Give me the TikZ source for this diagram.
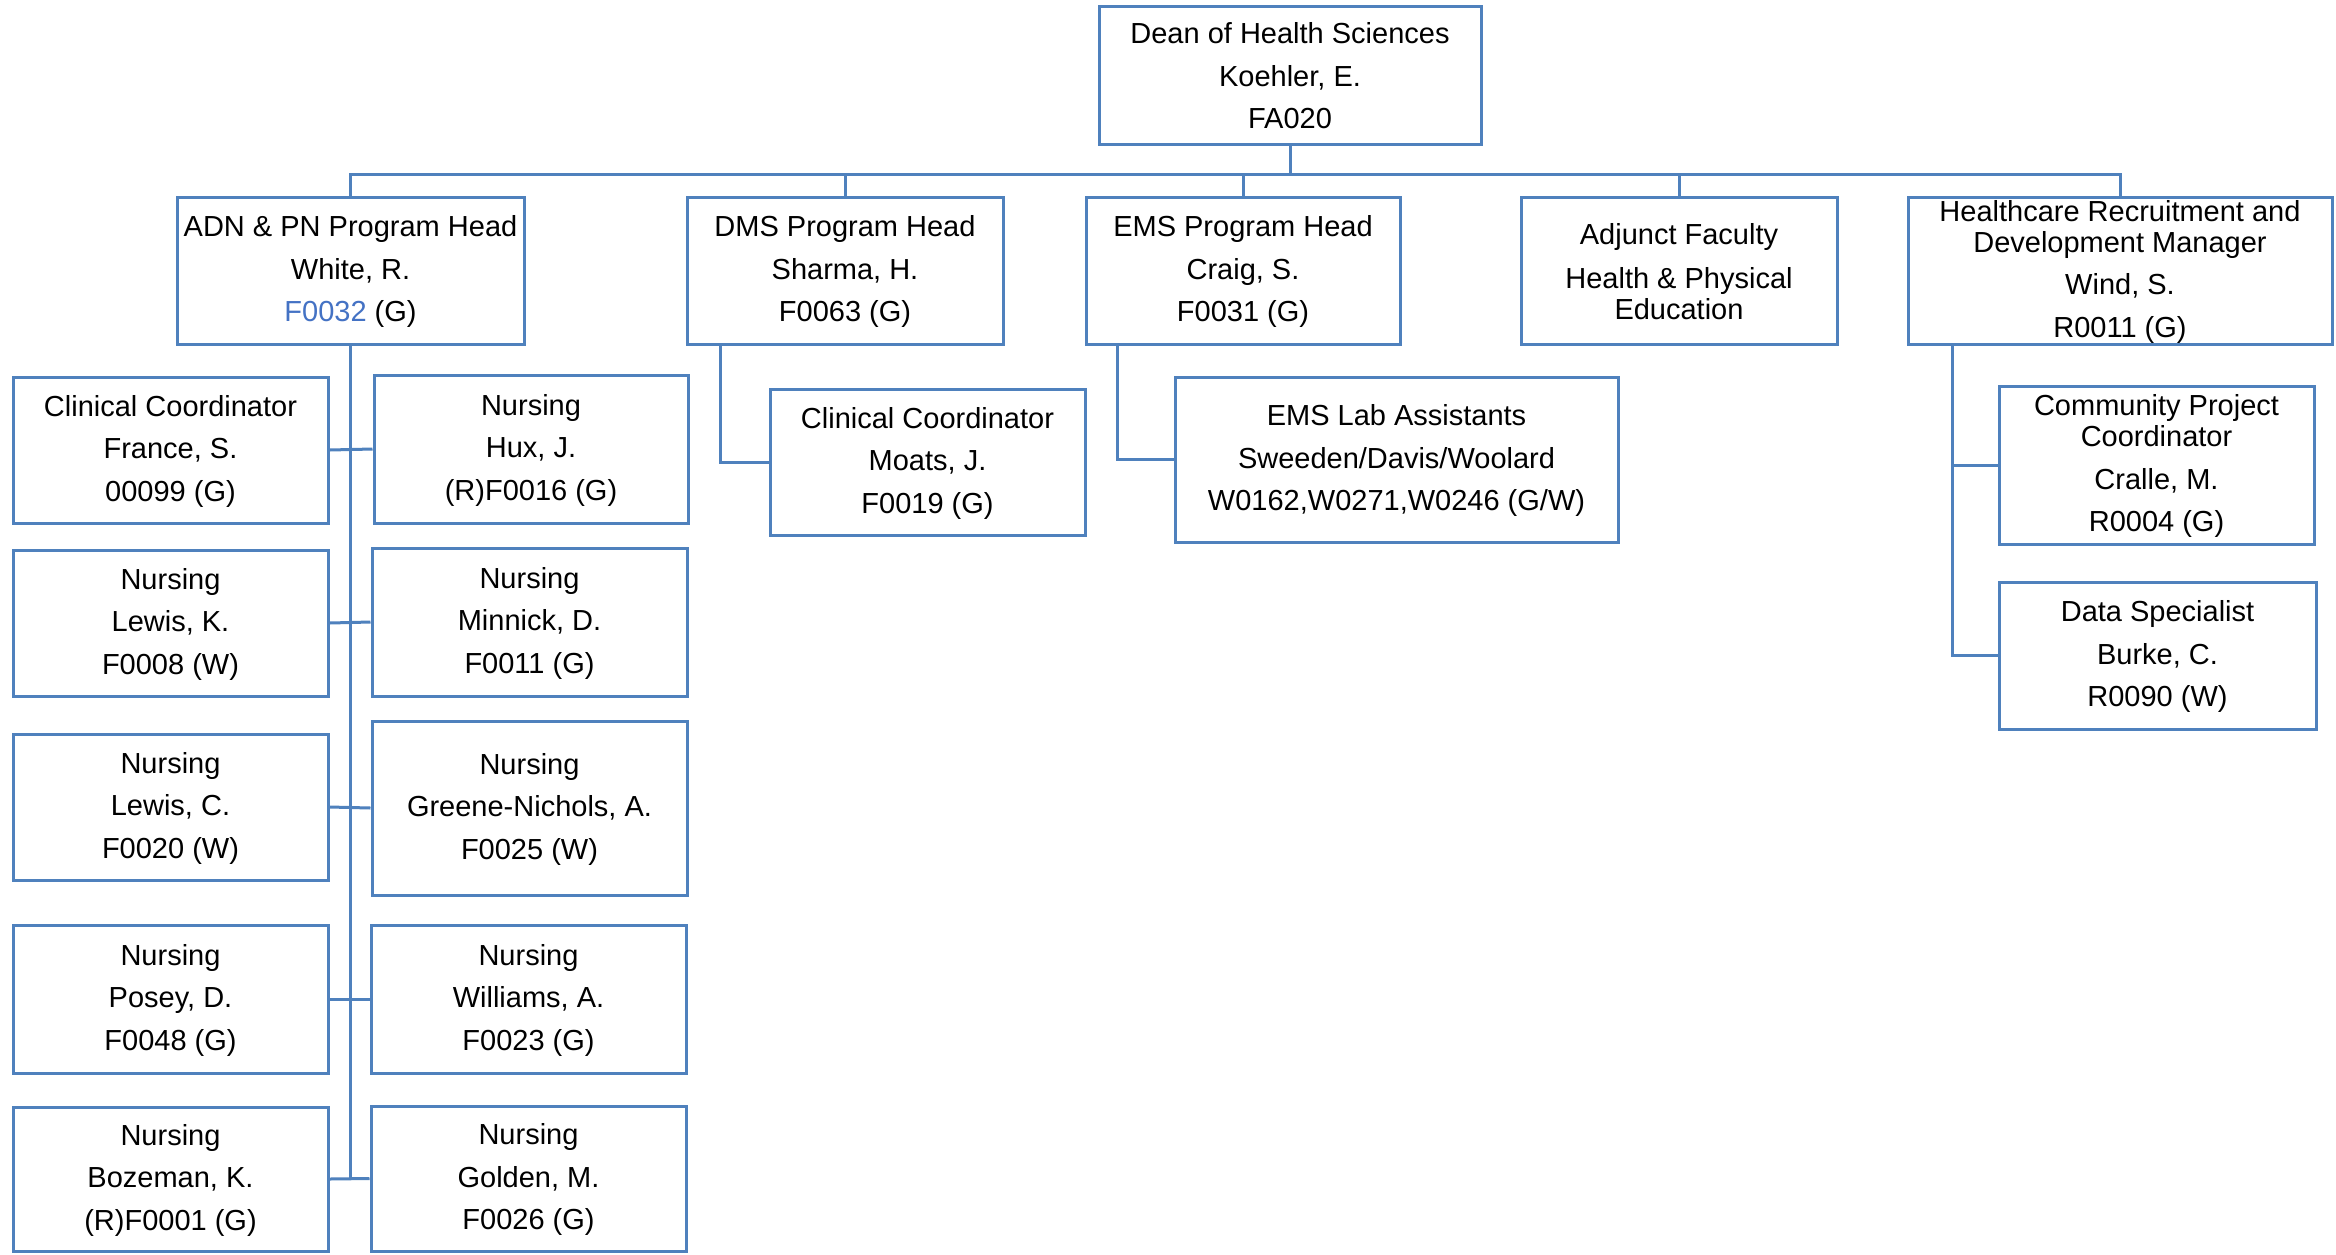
\documentclass[tikz,border=0pt]{standalone}
\usepackage{fontspec}
\setmainfont{Liberation Sans}
\definecolor{bord}{RGB}{79,129,189}
\definecolor{linkblue}{RGB}{68,114,196}
\newcommand\orgbox[6]{\node[box,minimum width={#3-#2},minimum height={#5-#4}] (#1) at ({(#2+#3)/2},{(#4+#5)/2}) {\rule{0pt}{23pt}#6};}
\newcommand\pb{\\[11.5pt]}
\begin{document}
\begin{tikzpicture}[x=1pt,y=-1pt,
 box/.style={draw=bord, line width=3pt, rectangle, inner sep=0pt, align=center, font=\fontsize{29}{31}\selectfont, fill=white},
 conn/.style={draw=bord, line width=3pt}]
\useasboundingbox[fill=white] (0,0) rectangle (2336,1254);
% top level
\orgbox{dean}{1099}{1481}{6}{144}{Dean of Health Sciences\pb Koehler, E.\pb FA020}
\orgbox{adn}{177}{524}{197}{344}{ADN \& PN Program Head\pb White, R.\pb \textcolor{linkblue}{F0032} (G)}
\orgbox{dms}{687}{1003}{197}{344}{DMS Program Head\pb Sharma, H.\pb F0063 (G)}
\orgbox{ems}{1086}{1400}{197}{344}{EMS Program Head\pb Craig, S.\pb F0031 (G)}
\orgbox{adj}{1521}{1837}{197}{344}{Adjunct Faculty\\[13pt] Health \& Physical\\ Education}
\orgbox{hc}{1908}{2332}{197}{344}{Healthcare Recruitment and\\ Development Manager\pb Wind, S.\pb R0011 (G)}
% ADN children
\orgbox{l1}{13}{328}{377}{523}{Clinical Coordinator\pb France, S.\pb 00099 (G)}
\orgbox{r1}{374}{688}{375}{523}{Nursing\pb Hux, J.\pb (R)F0016 (G)}
\orgbox{l2}{13}{328}{550}{696}{Nursing\pb Lewis, K.\pb F0008 (W)}
\orgbox{r2}{372}{687}{548}{696}{Nursing\pb Minnick, D.\pb F0011 (G)}
\orgbox{l3}{13}{328}{734}{880}{Nursing\pb Lewis, C.\pb F0020 (W)}
\orgbox{r3}{372}{687}{721}{895}{Nursing\pb Greene-Nichols, A.\pb F0025 (W)}
\orgbox{l4}{13}{328}{925}{1073}{Nursing\pb Posey, D.\pb F0048 (G)}
\orgbox{r4}{371}{686}{925}{1073}{Nursing\pb Williams, A.\pb F0023 (G)}
\orgbox{l5}{13}{328}{1107}{1251}{Nursing\pb Bozeman, K.\pb (R)F0001 (G)}
\orgbox{r5}{371}{686}{1106}{1251}{Nursing\pb Golden, M.\pb F0026 (G)}
% other children
\orgbox{moats}{770}{1085}{389}{535}{Clinical Coordinator\pb Moats, J.\pb F0019 (G)}
\orgbox{lab}{1175}{1618}{377}{542}{EMS Lab Assistants\pb Sweeden/Davis/Woolard\pb W0162,W0271,W0246 (G/W)}
\orgbox{comm}{1999}{2314}{386}{544}{Community Project\\ Coordinator\pb Cralle, M.\pb R0004 (G)}
\orgbox{data}{1999}{2316}{582}{729}{Data Specialist\pb Burke, C.\pb R0090 (W)}
% connectors top
\coordinate (bar) at (1290,174);
\draw[conn] (dean.south) -- (bar);
\draw[conn] (adn.north) |- (bar) -| (hc.north);
\draw[conn] (dms.north) -- (dms.north |- bar);
\draw[conn] (ems.north) -- (ems.north |- bar);
\draw[conn] (adj.north) -- (adj.north |- bar);
% ADN spine
\draw[conn] (adn.south) -- (adn.south |- l5.east);
\foreach \i in {1,...,5}{\draw[conn] (l\i.east) -- (r\i.west);}
% DMS, EMS, HC
\coordinate (dmsk) at (720,344);
\draw[conn] (dmsk) |- (moats.west);
\coordinate (emsk) at (1117,344);
\draw[conn] (emsk) |- (lab.west);
\coordinate (hck) at (1952,344);
\draw[conn] (hck) |- (data.west);
\draw[conn] (hck |- comm.west) -- (comm.west);
\end{tikzpicture}
\end{document}
